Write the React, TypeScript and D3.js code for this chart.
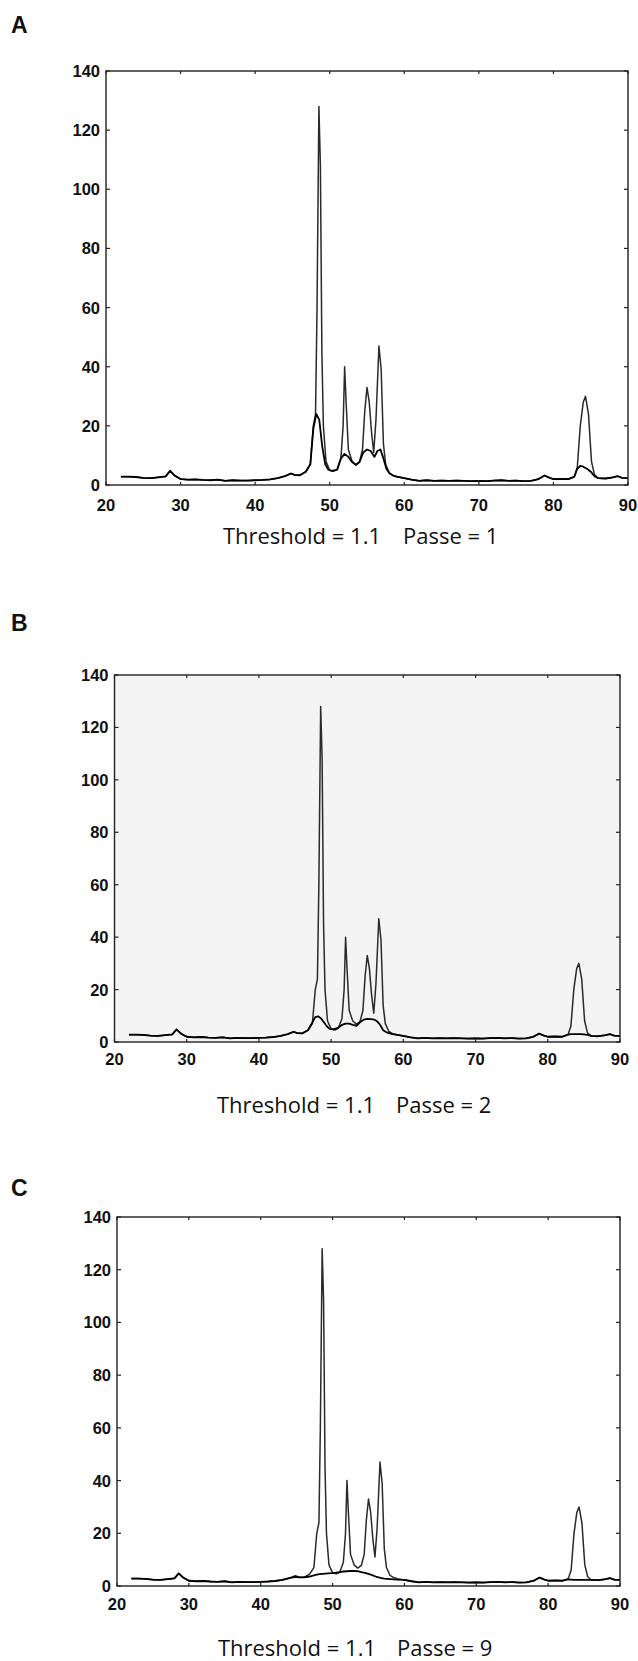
import React from "react";
import * as d3 from "d3";

// ---- data ----
const xTicks = [20, 30, 40, 50, 60, 70, 80, 90];
const yTicks = [0, 20, 40, 60, 80, 100, 120, 140];

// measured spectrum (2-theta, counts)
const specX = [
  22.0, 23.0, 24.0, 25.0, 26.0, 27.0, 28.0, 28.6, 29.2, 30.0, 31.0, 32.0, 33.0, 34.0, 35.0, 36.0,
  37.0, 38.0, 39.0, 40.0, 41.0, 42.0, 43.0, 44.0, 44.8, 45.3, 46.0, 46.8, 47.4, 47.8, 48.1, 48.3,
  48.55, 48.75, 48.95, 49.15, 49.5, 50.0, 50.5, 51.0, 51.5, 51.8, 52.0, 52.2, 52.5, 53.0, 53.5, 54.0,
  54.4, 54.7, 55.0, 55.3, 55.6, 55.9, 56.2, 56.6, 56.9, 57.2, 57.5, 58.0, 58.5, 59.0, 60.0, 61.0,
  62.0, 63.0, 64.0, 65.0, 66.0, 67.0, 68.0, 69.0, 70.0, 71.0, 72.0, 73.0, 74.0, 75.0, 76.0, 77.0,
  78.0, 78.8, 79.5, 80.0, 81.0, 82.0, 82.8, 83.2, 83.6, 84.0, 84.3, 84.7, 85.1, 85.5, 86.0, 87.0,
  88.0, 88.6, 89.2, 90.0,
];
const specY = [
  2.8, 2.8, 2.7, 2.4, 2.3, 2.6, 2.9, 4.8, 3.2, 2.0, 1.8, 1.9, 1.7, 1.6, 1.8, 1.4,
  1.6, 1.5, 1.5, 1.6, 1.7, 1.9, 2.3, 3.0, 3.9, 3.4, 3.3, 4.5, 7, 20, 24, 60,
  128, 108, 45, 20, 8, 5.0, 4.6, 5.2, 9, 20, 40, 28, 12, 8.0, 6.8, 7.8,
  12, 25, 33, 28, 18, 11, 22, 47, 39, 14, 7, 4.0, 3.2, 2.8, 2.3, 1.8,
  1.4, 1.6, 1.4, 1.5, 1.4, 1.5, 1.4, 1.3, 1.4, 1.3, 1.5, 1.6, 1.4, 1.5, 1.3, 1.4,
  2.0, 3.2, 2.4, 2.0, 2.1, 2.0, 2.8, 6, 20, 28, 30, 24, 8, 3.5, 2.3, 2.2,
  2.6, 3.0, 2.4, 2.3,
];

// estimated background, region 1 (44–59) and region 2 (82.8–86)
const bgX1 = [
  44.0, 44.8, 45.3, 46.0, 46.8, 47.4, 47.8, 48.2, 48.6, 49.0, 49.4, 49.8, 50.3, 51.0, 51.5, 52.0,
  52.5, 53.0, 53.5, 54.0, 54.5, 55.0, 55.5, 56.0, 56.4, 56.8, 57.2, 57.6, 58.0, 58.5, 59.0,
];
const bgA1 = [
  3.0, 3.9, 3.4, 3.3, 4.5, 7.0, 19, 24, 22, 13, 7, 5.2, 4.8, 5.2, 9, 10.5,
  9.5, 7.8, 6.8, 7.8, 11, 12, 11.5, 9.5, 11.5, 12, 9, 5.5, 4.0, 3.2, 2.8,
];
const bgB1 = [
  3.0, 3.9, 3.4, 3.3, 4.5, 7.5, 9.5, 9.8, 9.0, 7.5, 6.0, 5.0, 4.8, 5.5, 6.5, 7.0,
  7.0, 6.5, 6.2, 7.5, 8.5, 8.8, 8.7, 8.5, 7.8, 6.5, 4.5, 3.8, 3.4, 3.0, 2.8,
];
const bgC1 = [
  3.0, 3.5, 3.3, 3.3, 3.6, 4.0, 4.3, 4.5, 4.6, 4.7, 4.8, 4.9, 5.0, 5.3, 5.5, 5.6,
  5.7, 5.7, 5.6, 5.3, 5.0, 4.6, 4.1, 3.6, 3.3, 3.0, 2.8, 2.7, 2.6, 2.5, 2.4,
];
const bgX2 = [82.8, 83.2, 83.6, 84.0, 84.5, 85.0, 85.5, 86.0];
const bgA2 = [2.8, 5.5, 6.5, 6.2, 5.5, 4.5, 3.0, 2.3];
const bgB2 = [2.8, 3.0, 3.0, 3.0, 3.0, 2.9, 2.7, 2.3];
const bgC2 = [2.5, 2.4, 2.3, 2.3, 2.3, 2.3, 2.3, 2.3];

const panelLabels = ["A", "B", "C"];
const thresholds = ["1.1", "1.1", "1.1"];
const passes = ["1", "2", "9"];

// ---- layout ----
const layouts = [
  { x0: 106, x1: 628, top: 71, bot: 485, labelY: 33, xLabY: 505, capY: 536, capEnd: 381, capStart: 403, fill: "#ffffff" },
  { x0: 114.5, x1: 620, top: 675, bot: 1042, labelY: 631, xLabY: 1059, capY: 1105, capEnd: 375, capStart: 396, fill: "#f4f4f4" },
  { x0: 117, x1: 620, top: 1217, bot: 1586, labelY: 1196, xLabY: 1604, capY: 1648, capEnd: 376, capStart: 397, fill: "#ffffff" },
];

function buildBackground(r1: number[], r2: number[]) {
  const lo1 = bgX1[0], hi1 = bgX1[bgX1.length - 1];
  const lo2 = bgX2[0], hi2 = bgX2[bgX2.length - 1];
  const pts: [number, number][] = [];
  specX.forEach((x, i) => {
    if ((x < lo1 || x > hi1) && (x < lo2 || x > hi2)) pts.push([x, specY[i]]);
  });
  bgX1.forEach((x, i) => pts.push([x, r1[i]]));
  bgX2.forEach((x, i) => pts.push([x, r2[i]]));
  pts.sort((a, b) => a[0] - b[0]);
  return pts;
}

const backgrounds = [
  buildBackground(bgA1, bgA2),
  buildBackground(bgB1, bgB2),
  buildBackground(bgC1, bgC2),
];

const tickFont = "'Liberation Sans', Arial, sans-serif";
const capFont = "'Open Sans', 'Noto Sans', sans-serif";

function Panel({ idx }: { idx: number }) {
  const L = layouts[idx];
  const x = d3.scaleLinear().domain([20, 90]).range([L.x0, L.x1]);
  const y = d3.scaleLinear().domain([0, 140]).range([L.bot, L.top]);
  const line = d3
    .line<[number, number]>()
    .x((d) => x(d[0]))
    .y((d) => y(d[1]));
  const spec = specX.map((v, i) => [v, specY[i]] as [number, number]);
  const bg = backgrounds[idx];
  return (
    <g>
      <text x={11} y={L.labelY} fontFamily={tickFont} fontWeight="bold" fontSize={23} fill="#111">
        {panelLabels[idx]}
      </text>
      <rect x={L.x0} y={L.top} width={L.x1 - L.x0} height={L.bot - L.top} fill={L.fill} stroke="none" />
      <path d={line(spec) || ""} fill="none" stroke="#2a2a2a" strokeWidth={1.5} strokeLinejoin="round" />
      <path d={line(bg) || ""} fill="none" stroke="#000" strokeWidth={1.8} strokeLinejoin="round" />
      <rect x={L.x0} y={L.top} width={L.x1 - L.x0} height={L.bot - L.top} fill="none" stroke="#222" strokeWidth={1.4} />
      {yTicks.map((t) => (
        <g key={"y" + t}>
          <line x1={L.x0} x2={L.x0 + 4} y1={y(t)} y2={y(t)} stroke="#222" strokeWidth={1.2} />
          <line x1={L.x1} x2={L.x1 - 4} y1={y(t)} y2={y(t)} stroke="#222" strokeWidth={1.2} />
          <text
            x={L.x0 - 6}
            y={y(t)}
            dy="0.36em"
            textAnchor="end"
            fontFamily={tickFont}
            fontWeight="bold"
            fontSize={16.5}
            fill="#111"
          >
            {t}
          </text>
        </g>
      ))}
      {xTicks.map((t) => (
        <g key={"x" + t}>
          <line x1={x(t)} x2={x(t)} y1={L.bot} y2={L.bot - 3} stroke="#222" strokeWidth={1.2} />
          <line x1={x(t)} x2={x(t)} y1={L.top} y2={L.top + 3} stroke="#222" strokeWidth={1.2} />
          <text
            x={x(t)}
            y={L.xLabY}
            dy="0.36em"
            textAnchor="middle"
            fontFamily={tickFont}
            fontWeight="bold"
            fontSize={16.5}
            fill="#111"
          >
            {t}
          </text>
        </g>
      ))}
      <text x={L.capEnd} y={L.capY} dy="0.36em" textAnchor="end" fontFamily={capFont} fontSize={22} fill="#111">
        {"Threshold = " + thresholds[idx]}
      </text>
      <text x={L.capStart} y={L.capY} dy="0.36em" textAnchor="start" fontFamily={capFont} fontSize={22} fill="#111">
        {"Passe = " + passes[idx]}
      </text>
    </g>
  );
}

export default function App() {
  return (
    <svg
      width={638}
      height={1661}
      viewBox="0 0 638 1661"
      style={{ position: "absolute", left: 0, top: 0, background: "#fff" }}
    >
      <rect x={0} y={0} width={638} height={1661} fill="#fff" />
      {[0, 1, 2].map((i) => (
        <Panel key={i} idx={i} />
      ))}
    </svg>
  );
}
